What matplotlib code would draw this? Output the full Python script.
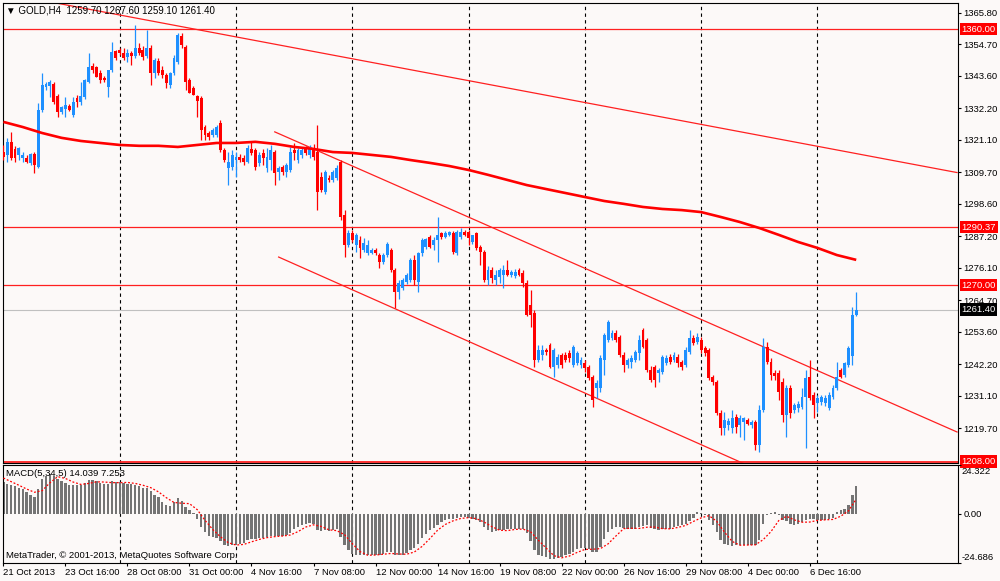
import matplotlib
matplotlib.use('Agg')
import matplotlib.pyplot as plt
import matplotlib.transforms as mtransforms
import numpy as np

plt.rcParams['font.family'] = ['Liberation Sans', 'DejaVu Sans']

# ---------------- data (GOLD, H4) ----------------
opens = [1316.8, 1315.8, 1320.4, 1317.9, 1315.8, 1314.7, 1314.7, 1313.0, 1316.1, 1311.6,
         1331.6, 1339.7, 1340.1, 1340.8, 1336.5, 1330.9, 1332.0, 1333.0, 1329.9, 1335.8,
         1334.4, 1336.2, 1341.5, 1347.1, 1346.7, 1344.6, 1342.9, 1339.7, 1345.7, 1352.4,
         1352.7, 1351.7, 1350.3, 1351.7, 1350.6, 1353.4, 1352.7, 1350.6, 1353.4, 1344.6,
         1348.8, 1345.7, 1343.9, 1340.4, 1344.6, 1348.5, 1357.6, 1353.8, 1342.2, 1339.3,
         1336.5, 1335.8, 1325.6, 1323.5, 1322.8, 1322.8, 1327.0, 1317.5, 1311.2, 1311.6,
         1314.0, 1315.1, 1314.7, 1313.3, 1317.9, 1317.5, 1313.0, 1316.5, 1311.2, 1314.0,
         1316.8, 1309.8, 1311.6, 1309.8, 1310.5, 1317.5, 1314.0, 1315.8, 1318.2, 1315.8,
         1318.2, 1316.8, 1308.0, 1302.8, 1307.7, 1307.0, 1307.7, 1313.3, 1294.7, 1284.1,
         1288.4, 1284.1, 1285.9, 1282.4, 1281.3, 1281.3, 1282.4, 1280.6, 1278.2, 1280.6,
         1282.4, 1275.3, 1267.6, 1269.0, 1271.1, 1271.8, 1278.9, 1271.1, 1281.3, 1283.4,
         1287.0, 1284.1, 1285.9, 1288.4, 1287.0, 1287.7, 1288.4, 1281.3, 1287.0, 1288.7,
         1288.7, 1285.2, 1288.4, 1283.4, 1281.7, 1271.8, 1275.3, 1271.8, 1272.9, 1273.6,
         1275.3, 1273.6, 1273.2, 1275.3, 1274.3, 1270.8, 1263.0, 1260.2, 1243.7, 1245.4,
         1247.2, 1249.0, 1241.2, 1241.9, 1245.4, 1245.4, 1246.1, 1241.9, 1242.6, 1241.9,
         1242.6, 1241.2, 1237.7, 1233.8, 1233.8, 1243.7, 1250.7, 1251.4, 1253.2, 1251.8,
         1245.4, 1241.9, 1243.0, 1243.7, 1246.1, 1254.2, 1250.7, 1240.2, 1241.2, 1239.1,
         1239.5, 1242.6, 1244.7, 1243.7, 1244.7, 1243.0, 1241.9, 1246.5, 1251.4, 1250.0,
         1250.7, 1247.9, 1247.2, 1237.7, 1236.0, 1225.0, 1219.8, 1220.8, 1219.8, 1223.6,
         1220.8, 1221.9, 1222.6, 1220.8, 1221.9, 1213.8, 1226.1, 1248.3, 1243.0, 1239.1,
         1239.1, 1236.0, 1224.3, 1233.8, 1226.1, 1226.8, 1227.2, 1230.7, 1237.7, 1231.4,
         1228.6, 1228.9, 1228.6, 1226.8, 1230.7, 1233.8, 1240.2, 1238.4, 1241.9, 1245.0,
         1259.7]
highs = [1319.3, 1321.8, 1323.9, 1319.0, 1318.6, 1316.8, 1315.8, 1316.5, 1316.8, 1334.1,
         1344.6, 1341.5, 1342.2, 1341.5, 1337.2, 1333.0, 1336.2, 1333.7, 1336.2, 1336.9,
         1341.5, 1342.5, 1351.7, 1348.1, 1347.1, 1345.7, 1343.6, 1345.7, 1355.5, 1352.7,
         1353.4, 1353.4, 1353.1, 1352.4, 1361.5, 1355.2, 1354.1, 1359.7, 1354.5, 1349.9,
         1349.9, 1347.1, 1344.6, 1345.0, 1351.0, 1358.7, 1358.7, 1354.5, 1342.9, 1340.1,
         1336.9, 1336.5, 1326.3, 1324.2, 1325.3, 1326.3, 1328.1, 1318.2, 1316.8, 1317.5,
         1316.8, 1316.1, 1315.8, 1319.3, 1320.4, 1318.2, 1316.8, 1317.9, 1318.2, 1319.3,
         1317.5, 1311.9, 1312.3, 1313.0, 1318.6, 1320.0, 1318.2, 1318.2, 1319.0, 1319.3,
         1319.7, 1326.3, 1309.8, 1310.5, 1308.8, 1310.5, 1312.3, 1314.0, 1296.4, 1289.4,
         1289.4, 1288.4, 1287.3, 1286.6, 1285.9, 1283.1, 1283.1, 1281.3, 1281.3, 1285.2,
         1283.1, 1276.0, 1271.8, 1272.5, 1274.3, 1279.6, 1280.6, 1281.7, 1286.6, 1286.6,
         1287.7, 1287.0, 1294.0, 1288.7, 1289.1, 1289.1, 1289.1, 1289.4, 1290.1, 1289.4,
         1289.4, 1287.3, 1288.7, 1284.1, 1282.4, 1276.7, 1276.4, 1275.3, 1276.0, 1277.1,
         1278.9, 1275.3, 1275.7, 1276.0, 1275.3, 1271.8, 1268.3, 1261.3, 1249.0, 1249.0,
         1247.9, 1249.7, 1247.9, 1245.8, 1246.1, 1246.5, 1247.2, 1249.0, 1246.9, 1244.7,
         1243.7, 1241.9, 1238.4, 1236.7, 1245.4, 1253.2, 1257.8, 1254.2, 1254.2, 1252.5,
         1246.5, 1244.4, 1245.4, 1247.2, 1252.5, 1254.9, 1251.4, 1241.6, 1241.9, 1240.9,
         1245.4, 1245.4, 1245.8, 1246.5, 1245.8, 1243.7, 1248.3, 1254.2, 1252.5, 1253.2,
         1251.8, 1248.6, 1247.9, 1238.4, 1236.7, 1226.1, 1225.4, 1223.3, 1226.1, 1224.7,
         1224.3, 1223.6, 1223.3, 1222.6, 1222.6, 1227.9, 1251.4, 1250.0, 1244.4, 1240.2,
         1240.2, 1237.4, 1234.9, 1234.9, 1228.6, 1229.3, 1233.8, 1240.2, 1243.7, 1232.4,
         1231.4, 1231.4, 1231.4, 1232.4, 1234.9, 1243.0, 1240.9, 1243.0, 1248.6, 1262.3,
         1267.6]
lows = [1314.0, 1313.3, 1314.0, 1313.3, 1314.0, 1313.3, 1313.0, 1312.3, 1309.5, 1311.2,
        1330.9, 1338.6, 1336.2, 1333.7, 1329.2, 1330.2, 1329.2, 1331.3, 1329.2, 1332.7,
        1333.4, 1335.5, 1341.1, 1344.6, 1343.2, 1341.1, 1341.5, 1336.2, 1345.0, 1349.2,
        1351.0, 1349.2, 1348.5, 1347.4, 1349.9, 1351.0, 1349.2, 1349.9, 1340.4, 1342.9,
        1343.9, 1342.9, 1339.3, 1339.3, 1343.9, 1347.8, 1353.4, 1338.6, 1337.6, 1336.9,
        1329.2, 1321.1, 1321.1, 1321.1, 1322.1, 1322.1, 1316.8, 1313.3, 1305.2, 1310.5,
        1308.0, 1313.3, 1312.3, 1313.0, 1315.8, 1310.5, 1311.9, 1312.3, 1309.8, 1310.5,
        1305.2, 1307.0, 1308.8, 1308.0, 1309.8, 1314.0, 1313.0, 1314.7, 1315.8, 1314.7,
        1314.0, 1296.4, 1302.8, 1302.1, 1306.3, 1306.3, 1307.0, 1292.9, 1280.0, 1283.4,
        1285.2, 1281.7, 1279.6, 1281.7, 1280.6, 1281.0, 1280.6, 1276.0, 1277.5, 1280.0,
        1274.6, 1262.0, 1265.1, 1268.3, 1270.4, 1271.1, 1270.1, 1267.6, 1280.3, 1282.7,
        1283.1, 1282.4, 1278.2, 1286.2, 1286.6, 1287.3, 1281.0, 1280.6, 1286.2, 1287.3,
        1284.1, 1284.5, 1282.4, 1277.1, 1271.1, 1270.1, 1270.8, 1270.1, 1270.8, 1269.0,
        1273.2, 1272.9, 1272.5, 1273.2, 1269.4, 1259.2, 1255.3, 1241.2, 1243.0, 1243.7,
        1245.4, 1240.9, 1237.7, 1240.9, 1240.9, 1243.0, 1243.0, 1241.2, 1241.9, 1240.9,
        1239.5, 1236.7, 1227.2, 1230.3, 1232.4, 1238.4, 1250.0, 1250.7, 1250.0, 1244.7,
        1239.5, 1240.9, 1240.9, 1243.0, 1243.7, 1247.9, 1239.5, 1236.0, 1234.2, 1236.0,
        1238.8, 1241.9, 1242.3, 1243.0, 1241.2, 1240.2, 1241.2, 1245.8, 1249.0, 1249.3,
        1246.1, 1245.1, 1236.7, 1234.9, 1224.3, 1217.3, 1217.3, 1219.1, 1218.0, 1218.0,
        1216.6, 1215.6, 1220.8, 1219.8, 1212.0, 1211.3, 1225.4, 1242.3, 1236.7, 1236.7,
        1229.6, 1221.9, 1216.6, 1223.3, 1225.0, 1225.4, 1226.5, 1212.7, 1229.6, 1223.3,
        1225.4, 1227.9, 1227.5, 1226.1, 1230.0, 1233.1, 1237.4, 1237.7, 1241.2, 1241.9,
        1259.1]
closes = [1315.1, 1320.4, 1314.7, 1314.7, 1318.2, 1315.8, 1313.3, 1316.1, 1312.3, 1331.6,
          1340.4, 1340.8, 1341.5, 1334.4, 1330.9, 1332.7, 1333.4, 1331.6, 1334.4, 1334.4,
          1336.5, 1342.2, 1346.7, 1345.7, 1343.2, 1342.2, 1342.2, 1345.7, 1352.0, 1349.9,
          1351.7, 1349.9, 1351.7, 1350.6, 1353.4, 1351.7, 1350.3, 1353.4, 1344.6, 1349.2,
          1344.6, 1343.9, 1341.1, 1344.6, 1349.9, 1358.0, 1354.5, 1341.5, 1337.6, 1336.9,
          1334.8, 1324.6, 1322.8, 1322.1, 1324.6, 1325.6, 1317.5, 1314.0, 1313.3, 1315.8,
          1315.1, 1314.0, 1313.3, 1318.2, 1316.5, 1311.6, 1315.8, 1314.7, 1315.1, 1317.5,
          1309.5, 1311.2, 1309.8, 1312.3, 1316.8, 1316.5, 1317.5, 1317.5, 1316.5, 1318.2,
          1315.1, 1302.8, 1303.5, 1309.8, 1307.0, 1309.8, 1311.2, 1294.0, 1284.1, 1288.4,
          1285.9, 1287.7, 1283.1, 1284.8, 1284.1, 1282.4, 1281.3, 1278.2, 1280.6, 1284.5,
          1275.3, 1267.6, 1270.8, 1271.8, 1273.6, 1278.9, 1271.8, 1281.3, 1285.9, 1286.2,
          1283.4, 1285.9, 1287.7, 1287.0, 1288.4, 1288.7, 1281.7, 1288.7, 1288.7, 1287.7,
          1286.6, 1287.7, 1283.1, 1281.7, 1271.8, 1275.3, 1272.5, 1273.6, 1275.3, 1275.3,
          1273.6, 1274.6, 1274.6, 1273.6, 1270.8, 1259.5, 1259.5, 1243.7, 1247.2, 1247.2,
          1246.5, 1241.2, 1247.2, 1244.7, 1241.9, 1243.7, 1244.4, 1248.3, 1246.1, 1243.7,
          1240.9, 1237.4, 1229.6, 1235.6, 1244.4, 1252.5, 1257.1, 1253.2, 1250.7, 1245.4,
          1241.9, 1243.7, 1244.4, 1246.5, 1250.7, 1248.3, 1240.2, 1236.7, 1236.7, 1240.2,
          1244.7, 1244.4, 1243.0, 1245.4, 1242.6, 1241.2, 1247.2, 1251.4, 1249.7, 1251.8,
          1247.2, 1246.1, 1237.4, 1236.0, 1225.0, 1219.8, 1222.6, 1222.2, 1223.3, 1220.1,
          1223.3, 1223.3, 1221.2, 1221.9, 1213.8, 1226.1, 1248.3, 1243.0, 1238.4, 1238.1,
          1232.4, 1224.3, 1233.8, 1225.0, 1227.9, 1228.2, 1230.7, 1237.4, 1230.3, 1227.9,
          1230.3, 1230.7, 1230.3, 1231.4, 1233.8, 1237.7, 1237.7, 1242.6, 1247.9, 1259.7,
          1261.4]

# slow moving average (thick red line), read at every 5th bar
ma_bars = list(range(0, 221, 5))
ma_vals = [1327.4, 1325.6, 1323.5, 1321.8, 1320.7, 1320.0, 1319.3, 1319.0, 1319.0, 1318.6,
           1319.3, 1320.0, 1320.0, 1320.4, 1319.7, 1318.6, 1317.9, 1316.8, 1316.5, 1315.8,
           1315.1, 1314.0, 1313.0, 1311.9, 1310.5, 1308.8, 1307.0, 1305.2, 1303.8, 1302.4,
           1301.0, 1299.6, 1298.6, 1297.5, 1296.8, 1296.4, 1295.7, 1294.0, 1292.2, 1290.1,
           1287.7, 1285.2, 1283.1, 1280.6, 1278.9]

# MACD(5,34,5) histogram and signal
macd_hist = [15.8, 15.0, 14.2, 13.8, 13.0, 12.2, 10.8, 9.5, 8.3, 12.5,
             17.2, 18.8, 20.0, 18.8, 17.5, 16.2, 15.3, 14.5, 14.5, 14.2,
             14.5, 15.5, 16.7, 16.8, 16.2, 15.5, 14.7, 15.0, 16.2, 15.8,
             15.8, 15.5, 15.0, 14.7, 14.5, 13.8, 13.0, 12.8, 11.2, 9.5,
             8.3, 5.8, 4.2, 3.8, 5.8, 7.8, 6.2, 3.3, 1.7, 0.5,
             -2.5, -6.7, -9.2, -11.3, -11.7, -12.2, -13.8, -15.5, -16.2, -15.8,
             -15.5, -15.0, -14.5, -13.3, -12.5, -12.5, -12.2, -12.0, -11.7, -11.2,
             -11.2, -11.2, -11.2, -10.8, -9.5, -7.8, -6.7, -5.8, -5.0, -4.5,
             -5.0, -8.3, -8.8, -8.3, -8.8, -8.3, -7.8, -11.7, -15.8, -18.3,
             -20.0, -20.8, -20.8, -20.8, -20.8, -20.8, -20.5, -20.5, -20.0, -19.2,
             -19.2, -20.8, -20.8, -20.5, -19.5, -18.3, -17.2, -15.0, -12.2, -10.0,
             -8.3, -7.2, -5.5, -4.2, -3.3, -2.8, -2.5, -2.2, -1.7, -1.7,
             -2.2, -2.5, -3.3, -4.2, -6.7, -8.3, -9.2, -8.8, -8.3, -8.3,
             -7.8, -7.8, -7.5, -7.8, -7.8, -9.5, -13.8, -18.3, -20.5, -21.2,
             -21.7, -22.5, -22.5, -22.2, -21.7, -20.8, -20.0, -19.2, -17.8, -17.2,
             -17.2, -17.5, -19.2, -19.2, -16.7, -12.5, -9.2, -7.5, -6.7, -6.7,
             -7.2, -7.8, -7.8, -7.5, -6.7, -6.2, -5.8, -7.2, -7.8, -8.3,
             -7.8, -7.5, -7.5, -6.7, -6.2, -5.8, -5.0, -3.8, -2.2, 0.8,
             0.3, -0.5, -3.3, -5.8, -9.2, -13.3, -15.0, -15.8, -16.2, -15.8,
             -15.8, -15.5, -15.5, -15.5, -15.8, -13.3, -5.0, -0.5, 0.5, 0.8,
             -0.5, -3.3, -3.8, -5.0, -5.5, -5.0, -4.2, -3.3, -2.8, -2.8,
             -3.3, -3.3, -3.3, -2.8, -2.2, 0.8, 1.7, 2.5, 4.2, 9.5,
             14.039]
signal_bars = list(range(0, 221, 2))
signal_vals = [17.8, 16.0, 14.2, 12.3, 10.7, 11.5, 15.4, 18.5, 17.6, 15.8,
               14.6, 15.1, 15.9, 15.8, 15.5, 15.5, 15.6, 15.1, 14.2, 13.0,
               10.9, 8.0, 5.6, 5.2, 5.0, 2.0, -3.3, -7.9, -11.6, -14.5,
               -15.7, -15.4, -14.1, -12.9, -12.0, -11.5, -11.2, -10.7, -9.0, -6.7,
               -5.6, -6.4, -8.1, -8.5, -10.5, -15.0, -19.0, -20.8, -20.7, -20.3,
               -19.9, -20.2, -20.3, -19.2, -16.4, -12.5, -8.3, -5.4, -3.6, -2.4,
               -2.0, -2.5, -4.2, -6.5, -8.3, -8.5, -7.9, -7.7, -9.1, -13.3,
               -17.2, -21.0, -22.1, -21.2, -19.4, -17.9, -17.8, -17.5, -15.1, -11.2,
               -7.5, -7.3, -7.4, -6.8, -6.7, -7.5, -7.6, -6.9, -5.9, -3.9,
               -2.1, -1.0, -3.8, -9.2, -13.9, -15.8, -15.7, -15.6, -13.0, -9.0,
               -3.5, -1.3, -3.1, -4.3, -4.2, -3.4, -3.1, -2.9, -1.3, 1.4,
               7.253]

hlevels = [1360.00, 1290.37, 1270.00, 1208.00]
bid_price = 1261.40
price_ticks = [1365.80, 1354.70, 1343.60, 1332.20, 1321.10, 1309.70, 1298.60,
               1287.20, 1276.10, 1264.70, 1253.60, 1242.20, 1231.10, 1219.70]
trendlines = [((12, 1369.6), (246, 1309.6)),
              ((70, 1323.9), (246, 1218.4)),
              ((71, 1279.9), (246, 1174.0))]
separator_bars = [30, 60, 90, 120, 150, 180, 210]
date_bars = list(range(0, 209, 16))
date_labels = ['21 Oct 2013', '23 Oct 16:00', '28 Oct 08:00', '31 Oct 00:00',
               '4 Nov 16:00', '7 Nov 08:00', '12 Nov 00:00', '14 Nov 16:00',
               '19 Nov 08:00', '22 Nov 00:00', '26 Nov 16:00', '29 Nov 08:00',
               '4 Dec 00:00', '6 Dec 16:00']
macd_max, macd_min = 24.322, -24.686

# ---------------- figure ----------------
W, H = 1000, 581
BG = '#fcf9f8'
FS = 6.8
fig = plt.figure(figsize=(W / 100, H / 100), dpi=100, facecolor=BG)
ax = fig.add_axes([3 / W, 1 - 463 / H, 955 / W, 460 / H], facecolor=BG)
axm = fig.add_axes([3 / W, 1 - 563 / H, 955 / W, 98 / H], facecolor=BG)

XL = (-0.1, 246.25)

x = np.arange(len(closes))
o = np.array(opens); c = np.array(closes); hi = np.array(highs); lo = np.array(lows)
up = c >= o
cols = np.where(up, '#1e90ff', '#ff0000')

for b in separator_bars:
    ax.axvline(b, color='black', lw=0.8, ls=(0, (3, 3)), zorder=1)
    axm.axvline(b, color='black', lw=0.8, ls=(0, (3, 3)), zorder=1)

ax.axhline(bid_price, color='#c0c0c0', lw=0.8, zorder=1.5)

ax.vlines(x, lo, hi, colors=cols, lw=0.9, zorder=3)
ax.bar(x, np.maximum(np.abs(c - o), 0.3), bottom=np.minimum(o, c), width=0.75,
       color=cols, linewidth=0, zorder=4)

ax.plot(ma_bars, ma_vals, color='#ff0000', lw=1.9, zorder=5, solid_capstyle='butt')

for lv in hlevels:
    ax.axhline(lv, color='#ff2020', lw=1.3 if lv == 1208.00 else 0.9, zorder=2)
for (x1, y1), (x2, y2) in trendlines:
    ax.plot([x1, x2], [y1, y2], color='#ff2020', lw=0.9, zorder=2)

ax.set_xlim(*XL)
ax.set_ylim(1207.5, 1369.2)
ax.yaxis.tick_right()
ax.set_yticks(price_ticks)
ax.set_yticklabels([f'{v:.2f}' for v in price_ticks])
ax.tick_params(axis='y', direction='out', length=2.2, width=0.8, pad=1.5,
               labelsize=FS, colors='black')
ax.set_xticks([])
for s in ax.spines.values():
    s.set_linewidth(0.8)
    s.set_color('black')

trans = mtransforms.blended_transform_factory(ax.transAxes, ax.transData)
for lv in hlevels:
    ax.text(1.0035, lv, f'{lv:.2f}', transform=trans, ha='left', va='center',
            fontsize=FS, color='white', clip_on=False, zorder=10,
            bbox=dict(facecolor='#ff0000', edgecolor='none', pad=1.2))
ax.text(1.0035, bid_price, f'{bid_price:.2f}', transform=trans, ha='left', va='center',
        fontsize=FS, color='white', clip_on=False, zorder=10,
        bbox=dict(facecolor='black', edgecolor='none', pad=1.2))

# MACD panel
axm.bar(x, macd_hist, width=0.6, color='#747474', linewidth=0, zorder=2)
axm.plot(signal_bars, signal_vals, color='#ff0000', lw=0.9, ls=(0, (1.5, 1.5)), zorder=3)
axm.set_xlim(*XL)
axm.set_ylim(macd_min, macd_max)
axm.yaxis.tick_right()
axm.set_yticks([macd_max, 0, macd_min])
axm.set_yticklabels(['', '0.00', ''])
axm.tick_params(axis='y', direction='out', length=2.2, width=0.8, pad=1.5,
                labelsize=FS, colors='black')
axm.text(1.0035, 1 - 6.7 / 98, f'{macd_max:.3f}', transform=axm.transAxes,
         ha='left', va='center', fontsize=FS)
axm.text(1.0035, 5.5 / 98, f'{macd_min:.3f}', transform=axm.transAxes,
         ha='left', va='center', fontsize=FS)
axm.set_xticks(date_bars)
axm.set_xticklabels(date_labels, ha='left')
axm.tick_params(axis='x', direction='out', length=2.2, width=0.8, pad=1.2,
                labelsize=FS, colors='black')
for s in axm.spines.values():
    s.set_linewidth(0.8)
    s.set_color('black')

# texts
fig.text(6 / W, 1 - 10.5 / H, '\u25BC GOLD,H4  1259.70 1267.60 1259.10 1261.40',
         ha='left', va='center', fontsize=7.0)
fig.text(6 / W, 1 - 474 / H, 'MACD(5,34,5) 14.039 7.253', ha='left', va='center',
         fontsize=FS, zorder=5)
fig.text(6 / W, 1 - 556 / H, 'MetaTrader, \u00A9 2001-2013, MetaQuotes Software Corp.',
         ha='left', va='center', fontsize=FS, zorder=5)

fig.savefig('out.png', dpi=100, facecolor=BG)
